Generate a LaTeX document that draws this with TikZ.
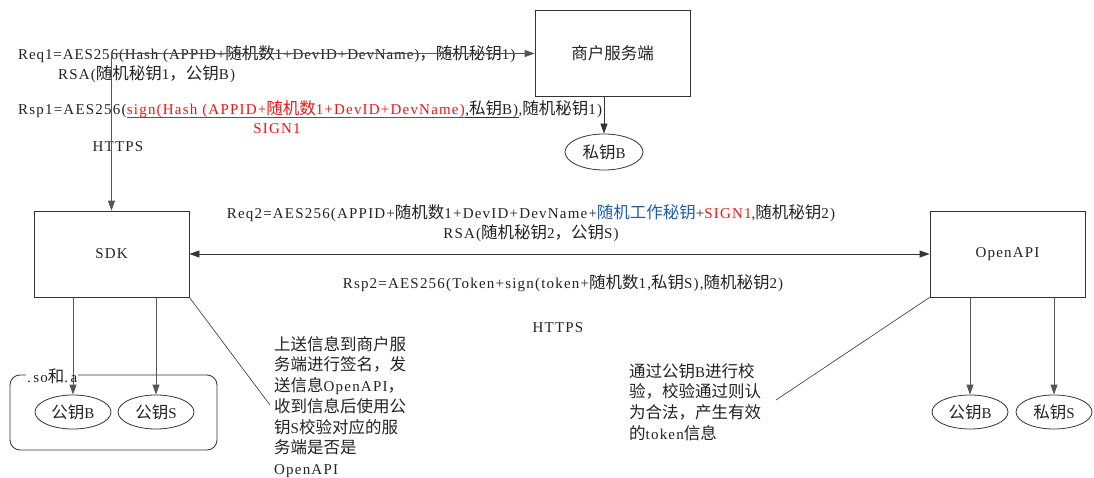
\documentclass[tikz,border=0pt]{standalone}
\usepackage{fontspec}
\setmainfont{Liberation Serif}[LetterSpace=8]
\newfontfamily\zhfont{Noto Sans CJK SC}[Scale=1.1]
\newcommand\zh[1]{{\zhfont #1}}
\usetikzlibrary{arrows.meta,shapes.geometric}
\definecolor{ink}{HTML}{222222}
\definecolor{linec}{HTML}{333333}
\definecolor{vlinec}{HTML}{555555}
\definecolor{redc}{HTML}{F01414}
\definecolor{bluec}{HTML}{1F5BAF}
\begin{document}
\begin{tikzpicture}[x=1pt,y=-1pt,
  font=\fontsize{15}{21.5}\selectfont,
  every node/.style={text=ink},
  tipk/.style={-{Triangle[length=10pt,width=7pt]}},
  tipkk/.style={{Triangle[length=10pt,width=7pt]}-{Triangle[length=10pt,width=7pt]}},
  box/.style={draw=linec, line width=0.8pt, minimum width=155pt, minimum height=86pt, inner sep=0pt},
  oval/.style={ellipse, draw=linec, line width=0.8pt, minimum width=76pt, minimum height=34pt, inner sep=0pt},
  txt/.style={inner sep=0pt},
  note/.style={inner sep=0pt, anchor=north west, align=left, font=\fontsize{15}{20.7}\selectfont},
  conn/.style={draw=linec, line width=0.8pt},
  vconn/.style={draw=vlinec, line width=0.9pt}]
\useasboundingbox (0,0) rectangle (1094,478);

% boxes
\node[box] (merchant) at (612.5,53.5) {\zh{商户服务端}};
\node[oval, minimum width=78pt, minimum height=36pt] (skB) at (604,152) {\zh{私钥}B};
\node[box] (sdk) at (111.5,254) {SDK};
\node[box] (openapi) at (1007.5,254) {OpenAPI};

% .so and .a container
\node[draw=linec, line width=0.8pt, rounded corners=10pt, minimum width=207pt, minimum height=75pt, inner sep=0pt] (so) at (113.5,412.5) {};
\node[fill=white, inner sep=1pt, anchor=west] (solabel) at (26,376) {.\,so\zh{和}.\,a};
\node[oval] (pkB1) at (73,412) {\zh{公钥}B};
\node[oval] (pkS1) at (156,412) {\zh{公钥}S};
\node[oval] (pkB2) at (970,412) {\zh{公钥}B};
\node[oval] (skS) at (1054,412) {\zh{私钥}S};

% texts, top
\node[txt, anchor=west] (req1) at (18,54) {\addfontfeature{LetterSpace=6}Req1=AES256(Hash (APPID+\zh{随机数}1+DevID+DevName)\zh{，随机秘钥}1)};
\node[txt, anchor=west] (rsa1) at (58,74) {RSA(\zh{随机秘钥}1\zh{，公钥}B)};
\node[txt, anchor=base west] (rsp1a) at (18,115) {Rsp1=AES256(};
\node[txt, anchor=base west, text=redc] (rsp1b) at (rsp1a.base east) {sign(Hash (APPID+\zh{随机数}1+DevID+DevName)};
\node[txt, anchor=base west] (rsp1c) at (rsp1b.base east) {,\zh{私钥}B)};
\node[txt, anchor=base west] (rsp1d) at (rsp1c.base east) {,\zh{随机秘钥}1)};
\node[txt, text=redc] (sign1) at (277,129) {SIGN1};
\node[txt] (https1) at (118,147) {HTTPS};

% texts, middle
\node[txt] (req2) at (531,213) {Req2=AES256(APPID+\zh{随机数}1+DevID+DevName+\textcolor{bluec}{\zh{随机工作秘钥}}+\textcolor{redc}{SIGN1},\zh{随机秘钥}2)};
\node[txt] (rsa2) at (531,233) {RSA(\zh{随机秘钥}2\zh{，公钥}S)};
\node[txt] (rsp2) at (563,283) {Rsp2=AES256(Token+sign(token+\zh{随机数}1,\zh{私钥}S),\zh{随机秘钥}2)};
\node[txt] (https2) at (558,328) {HTTPS};

% notes
\node[note] (note1) at (274,336) {\zh{上送信息到商户服}\\\zh{务端进行签名，发}\\\zh{送信息}OpenAPI\zh{，}\\\zh{收到信息后使用公}\\\zh{钥}S\zh{校验对应的服}\\\zh{务端是否是}\\OpenAPI};
\node[note] (note2) at (629,363) {\zh{通过公钥}B\zh{进行校}\\\zh{验，校验通过则认}\\\zh{为合法，产生有效}\\\zh{的}token\zh{信息}};
\coordinate (n1end) at (270,405);
\coordinate (n2end) at (776,400);

% underline of Rsp1
\draw[redc, line width=0.8pt] ([yshift=-2.5pt]rsp1b.base west) -- ([yshift=-2.5pt]rsp1b.base east);
\draw[linec, line width=0.8pt] ([yshift=-2.5pt]rsp1b.base east) -- ([yshift=-2.5pt,xshift=1pt]rsp1c.base east);

% connectors
\draw[vconn, tipkk] (sdk.north) |- (merchant.west);
\draw[conn, tipk] (merchant.south -| skB.north) -- (skB.north);
\draw[conn, tipkk] (sdk.east) -- (openapi.west);
\draw[vconn, tipk] (sdk.south -| pkB1.north) -- (pkB1.north);
\draw[vconn, tipk] (sdk.south -| pkS1.north) -- (pkS1.north);
\draw[vconn, tipk] (openapi.south -| pkB2.north) -- (pkB2.north);
\draw[vconn, tipk] (openapi.south -| skS.north) -- (skS.north);
\draw[conn, line width=0.6pt] (sdk.south east) -- (n1end);
\draw[conn, line width=0.6pt] (openapi.south west) -- (n2end);
\end{tikzpicture}
\end{document}
